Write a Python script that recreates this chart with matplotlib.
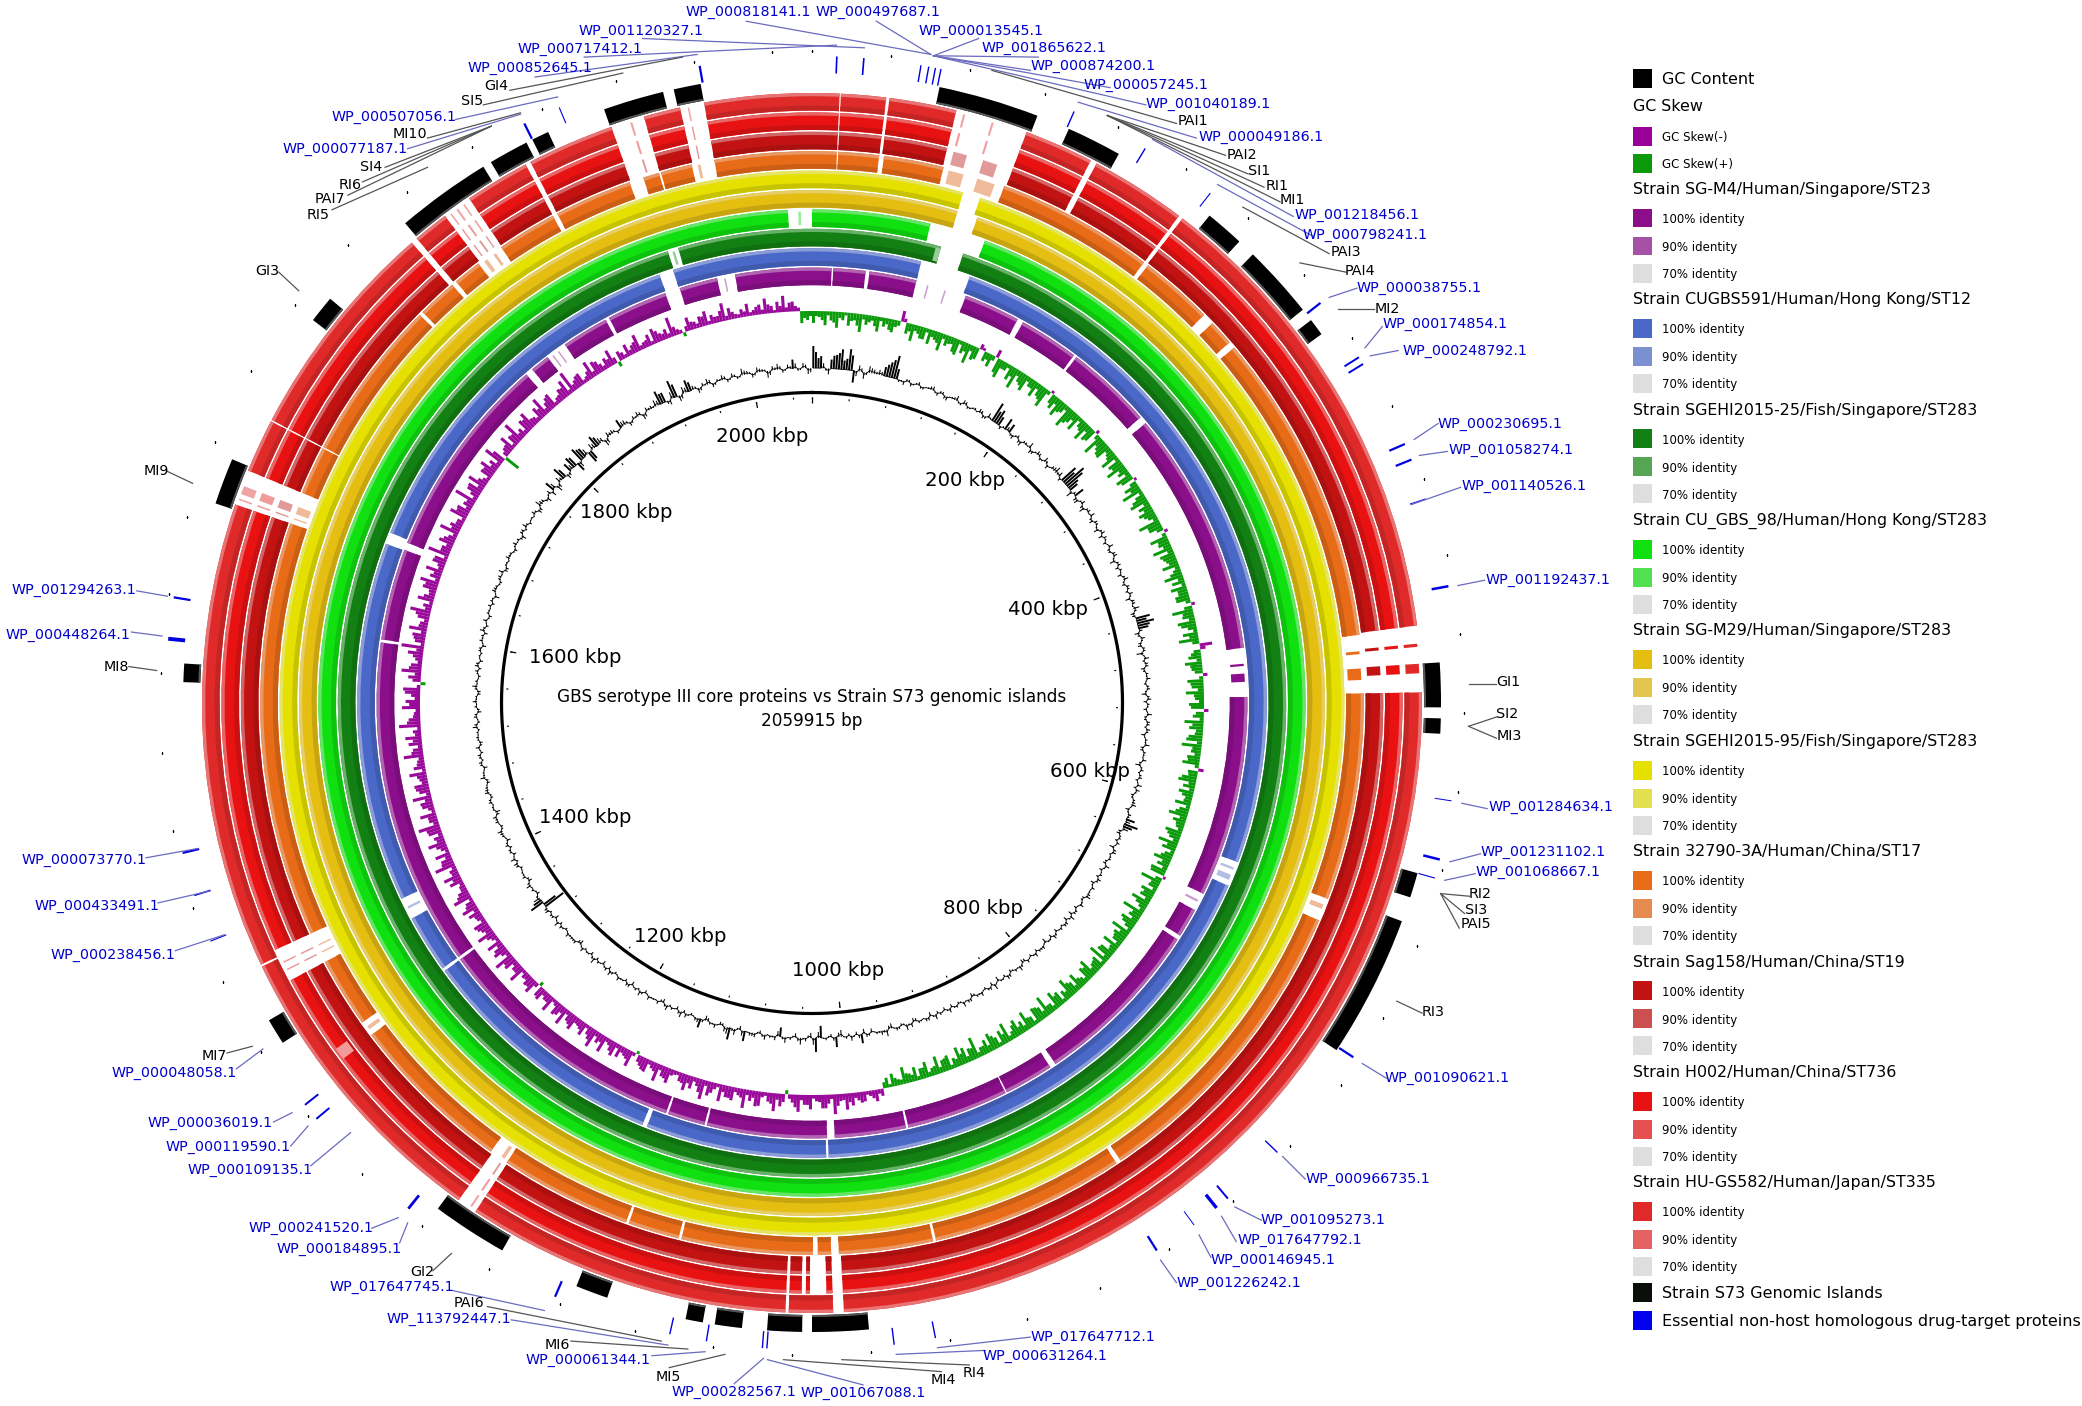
import numpy as np
import matplotlib
matplotlib.use("Agg")
import matplotlib.pyplot as plt
from matplotlib.patches import Rectangle
from matplotlib.colors import to_rgb

GENOME_BP = 2059915
TITLE = ["GBS serotype III core proteins vs Strain S73 genomic islands", "2059915 bp"]

STRAINS = ["Strain HU-GS582/Human/Japan/ST335", "Strain H002/Human/China/ST736", "Strain Sag158/Human/China/ST19",
           "Strain 32790-3A/Human/China/ST17", "Strain SGEHI2015-95/Fish/Singapore/ST283",
           "Strain SG-M29/Human/Singapore/ST283", "Strain CU_GBS_98/Human/Hong Kong/ST283",
           "Strain SGEHI2015-25/Fish/Singapore/ST283", "Strain CUGBS591/Human/Hong Kong/ST12",
           "Strain SG-M4/Human/Singapore/ST23"]
COL_100 = ["#E02A2A", "#E81212", "#C21212", "#E86C18", "#E5E000", "#E5BE12", "#10E010", "#128012", "#4A68C8", "#8B0F8B"]
COL_90 = ["#E56262", "#E55050", "#CC5050", "#E58A50", "#E2E050", "#E3C650", "#50E050", "#55A555", "#7B90D0", "#A650A6"]

RED_GAPS = [(2.6, 2.72), (7.0, 7.3), (13.7, 20.6), (27.2, 27.8), (37.0, 37.4), (82.7, 89.0), (177.0, 178.0),
            (178.6, 180.2), (180.6, 181.0), (182.2, 182.5), (213.5, 215.4), (242.0, 245.3), (289.0, 292.4), (297.5, 297.65),
            (319.0, 319.6), (323.0, 325.8), (332.0, 332.5), (340.8, 344.0), (347.5, 349.8)]
GAPS = [
    [g for g in RED_GAPS if g not in [(178.6, 180.2), (180.6, 181.0), (242.0, 245.3)]] + [(244.4, 244.6)],
    RED_GAPS,
    RED_GAPS,
    [(2.6, 2.72), (7.0, 7.5), (13.8, 20.4), (37.0, 37.5), (45.3, 46.5), (49.2, 49.9), (82.9, 89.0), (110.8, 113.2),
     (146.0, 146.5), (167.0, 167.3), (177.2, 178.0), (179.4, 179.9), (193.7, 194.0), (199.4, 199.7), (213.6, 215.6),
     (233.0, 234.6), (242.0, 245.3), (289.0, 292.4), (297.5, 297.65), (314.7, 315.1), (319.3, 319.8), (322.8, 325.7),
     (332.0, 332.5), (340.7, 342.2), (343.9, 344.1), (347.4, 349.8)],
    [(16.5, 18.4)],
    [(16.5, 18.8)],
    [(13.9, 20.5), (357.2, 360.0)],
    [(15.8, 18.6), (342.3, 343.6)],
    [(13.9, 20.3), (110.5, 113.7), (177.9, 178.2), (201.3, 201.9), (233.9, 234.3), (241.7, 244.5), (290.5, 292.0), (340.4, 342.2)],
    [(2.6, 2.8), (7.1, 7.6), (13.9, 20.7), (28.2, 29.0), (37.0, 37.4), (49.0, 50.0), (82.7, 89.2), (116.0, 118.4),
     (122.3, 122.9), (146.0, 146.8), (153.4, 153.6), (167.2, 167.5), (177.0, 178.0), (194.0, 194.3), (199.3, 199.6),
     (233.9, 234.3), (278.0, 278.4), (290.6, 291.6), (319.0, 320.0), (322.6, 325.4), (331.7, 332.2), (340.3, 342.3),
     (347.4, 349.8)],
]
RED_SLIVERS = [(14.4, 14.6), (17.2, 17.4), (84.4, 84.7), (86.3, 87.2), (214.0, 214.2), (243.0, 243.15), (243.8, 243.95),
               (289.5, 289.65), (290.1, 290.9), (323.5, 323.65), (324.2, 324.4), (325.0, 325.15), (342.6, 342.8), (348.2, 348.35)]
SLIVERS = [
    [s for s in RED_SLIVERS if s not in [(243.0, 243.15), (243.8, 243.95)]],
    RED_SLIVERS + [(232.8, 234.0)],
    [s for s in RED_SLIVERS if s not in [(14.4, 14.6), (17.2, 17.4)]] + [(14.4, 15.8), (17.5, 19.0)],
    [(14.4, 16.0), (17.5, 19.4), (84.6, 84.9), (86.4, 87.6), (111.5, 112.0), (214.0, 214.4), (233.6, 234.0), (243.0, 243.15),
     (243.8, 243.95), (289.5, 289.65), (290.1, 290.9), (323.4, 323.8), (324.6, 324.9), (348.0, 348.3)],
    [], [], [(358.4, 358.7)], [(15.2, 15.8), (342.8, 343.1)], [(111.3, 111.6), (112.3, 113.0), (243.0, 243.3)],
    [(15.4, 15.6), (17.8, 18.0), (84.8, 85.1), (86.1, 87.2), (117.0, 117.3), (323.2, 323.4), (324.1, 324.3), (348.3, 348.5)],
]

ISLANDS_DEG = [(11.7, 21.0), (24.1, 29.2), (39.2, 42.8), (44.5, 51.3), (52.5, 54.1), (86.3, 90.4), (91.4, 92.8),
               (105.7, 108.0), (110.3, 123.5), (174.8, 180.0), (180.9, 184.1), (186.4, 188.9), (190.0, 191.6),
               (199.0, 202.0), (209.5, 216.5), (237.3, 239.7), (271.9, 273.6), (288.5, 292.8), (307.5, 310.0),
               (319.7, 328.5), (329.3, 333.0), (333.6, 335.2), (340.7, 346.3), (347.3, 349.8)]
TARGETS_DEG = [2.2, 4.6, 9.7, 10.4, 11.0, 11.5, 23.9, 31.0, 38.0, 51.8, 57.7, 58.4, 66.4, 67.9, 71.6, 79.6, 98.7,
               104.0, 105.7, 123.2, 134.0, 140.0, 141.3, 143.8, 147.8, 169.0, 172.7, 184.0, 184.4, 189.4, 192.7,
               203.4, 218.6, 230.0, 231.6, 248.4, 252.7, 256.6, 275.7, 279.4, 333.6, 337.0, 350.0]
TARGET_WIDTHS = [1.2, 1.2, 1.0, 1.0, 1.0, 1.0, 1.0, 1.0, 0.8, 1.6, 1.4, 1.4, 1.6, 1.6, 0.7, 1.8, 0.7,
                 1.8, 0.8, 1.6, 1.0, 1.4, 2.4, 0.7, 1.6, 1.0, 1.0, 1.0, 1.0, 1.0, 1.0,
                 1.6, 2.0, 1.4, 1.4, 0.8, 1.2, 1.6, 2.8, 1.6, 1.6, 0.8, 1.6]

GC_CONTENT_A = [
    22,10,6,-7,13,16,9,21,-12,7,-8,8,5,6,9,15,23,-3,-5,3,
    -2,4,-3,2,5,-4,3,-5,2,6,-3,4,-2,3,5,-4,6,20,15,-4,
    12,9,-5,4,-6,3,7,-4,5,-3,6,-5,4,8,6,18,24,12,-8,10,
    -6,5,-7,4,6,-5,3,-6,5,4,-4,6,-3,5,-7,4,3,-5,6,-4,
    3,5,-6,4,7,-5,14,17,10,-6,5,-4,3,-8,6,4,-5,3,5,-3,
    4,-6,5,3,-4,6,-3,4,5,-5,3,6,-4,2,5,-7,4,3,-3,6,
    5,-4,3,6,-5,4,9,14,7,-5,3,4,-6,5,2,-3,6,-4,3,5,
    -5,4,2,6,-3,5,-4,3,6,-5,4,3,-4,5,2,-6,4,3,5,-3,
    4,-5,6,3,-4,5,2,-6,7,4,-3,5,3,-5,4,6,-3,2,5,-4,
    3,6,-5,4,2,-4,5,7,-3,4,-6,8,5,3,-5,4,9,-4,6,3,
    -8,10,-4,3,-12,14,-6,4,8,-5,3,7,-9,5,3,6,-4,5,4,10,
    -5,7,12,6,-4,5,3,-6,9,4,-3,5,7,-4,3,6,-5,4,2,5,
    -4,6,3,-5,4,2,5,-3,6,4,-5,3,7,-4,2,5,-6,4,3,5,
    -3,4,6,-5,3,5,-22,14,8,-4,3,6,-5,4,2,-3,5,6,-4,3,
    4,-5,3,6,-3,4,5,-6,2,4,-3,5,3,-4,6,2,-5,4,3,-3,
    5,-4,3,2,6,-3,4,-5,3,5,2,-4,6,3,-3,4,5,-4,2,3,
    -5,4,3,6,-3,5,-4,2,4,3,-6,5,3,-3,4,6,-4,2,5,3,
    -4,5,3,-6,4,6,-3,2,5,-5,8,4,-6,5,10,-8,7,13,-6,9,
    12,-9,14,10,-11,8,12,7,-8,6,5,-4,9,6,-5,4,6,-7,5,4,
    8,14,10,-6,18,-7,8,12,5,-6,4,7,-5,3,6,-4,5,-3,8,4,
    -5,6,3,-8,5,7,-4,5,9,-3,6,-7]
GC_CONTENT_B = [
    16,12,-3,9,14,20,11,15,-6,4,-3,6,3,4,12,18,10,-2,3,-4,
    2,-3,1,4,-2,3,-4,1,3,-2,5,-3,2,-1,4,-3,2,12,9,2,
    5,-3,2,-4,3,1,-5,2,4,-2,3,-1,5,3,-4,14,20,9,3,-5,
    2,-4,3,1,-3,4,-2,3,-5,2,1,-3,4,-2,3,-4,1,3,-2,4,
    -3,2,4,-1,3,-4,10,12,4,-3,2,-5,3,1,-2,4,-3,2,-1,3,
    -2,3,-4,2,1,-3,4,-2,3,-1,2,-4,3,1,-3,2,-2,4,1,-3,
    2,-3,4,1,-2,3,6,9,-4,2,-3,1,4,-2,3,-4,2,1,-3,3,
    -2,1,4,-3,2,-1,3,-5,2,4,-2,1,3,-4,2,-1,3,-3,2,1,
    -4,3,1,-2,4,-3,2,1,-4,3,-1,2,-3,4,1,-2,3,-4,2,1,
    -3,2,4,-1,3,-5,2,-2,3,1,-4,3,2,-1,3,-6,4,2,-3,1,
    -5,4,-2,1,-7,8,-3,2,4,-2,1,3,-6,2,-1,3,-2,4,1,6,
    -2,3,8,-3,1,2,-4,3,5,-1,2,-3,4,1,-2,3,-3,1,2,-1,
    3,-2,1,4,-3,2,-1,3,-4,2,1,-3,3,2,-2,1,-4,3,2,-1,
    2,-3,1,3,-2,4,-14,9,3,-2,1,3,-3,2,-1,4,-2,1,3,-3,
    2,-1,4,-2,1,3,-4,2,-1,3,-2,4,1,-3,2,-1,3,-2,4,1,
    -3,2,1,-2,4,-1,3,-3,1,2,-4,3,1,-1,2,-3,4,1,-2,3,
    -1,2,-4,3,1,-2,3,1,-3,2,-1,4,-2,3,1,-4,2,-1,3,-2,
    2,1,-3,4,-2,3,1,-1,3,-4,5,-3,2,-6,7,-5,4,9,-4,6,
    10,-7,11,8,-9,6,9,5,-6,4,3,-2,6,3,-3,2,4,-5,3,2,
    6,10,-4,8,13,-5,6,9,3,-4,2,5,-3,2,4,-2,3,-2,5,2,
    -3,4,2,-5,3,4,-2,3,6,-2,4,-5]
GC_SKEW_A = [
    12,6,14,9,16,8,13,7,18,10,5,15,9,11,7,-12,11,17,8,12,
    15,9,18,11,7,16,12,20,14,-6,10,13,-9,19,8,15,21,11,17,9,
    16,12,20,-3,14,18,10,22,13,17,9,19,15,-4,21,12,16,8,18,14,
    20,11,17,-3,15,21,10,19,13,16,9,22,14,-4,18,12,20,15,11,17,
    8,19,13,16,10,14,-4,21,12,18,9,15,20,-14,7,13,17,11,-5,16,
    12,18,9,15,-5,11,19,14,8,16,20,10,13,17,-6,9,18,12,15,7,
    16,10,19,13,8,17,11,20,14,9,18,12,16,-3,21,10,15,13,19,8,
    22,12,17,9,20,14,11,18,7,16,21,13,10,19,15,8,17,12,20,11,
    14,18,9,21,13,16,10,19,12,17,8,20,15,11,18,14,9,22,13,16,
    19,10,15,12,18,8,16,11,14,9,17,6,13,10,-8,-13,-6,-11,-9,-14,
    -18,-8,-22,-10,-15,-7,-16,-11,-19,-9,4,-14,-20,-10,-6,-17,-12,-21,-8,-15,
    -13,-19,-7,-16,-22,-9,-14,-18,-10,-5,-17,-12,-20,-8,-15,-11,3,-18,-9,-14,
    -16,-7,-19,-12,-21,-10,-15,-8,-17,-11,-20,-13,-6,-18,-9,-14,4,-16,-12,-8,
    -19,-10,-15,-22,-9,-13,-17,-7,-20,-11,-16,-8,-14,-18,-10,-21,-12,-7,-15,-19,
    -9,-23,-13,-17,-8,-20,-11,-15,-24,-10,-18,-7,-14,-21,-12,-16,-9,-19,-13,-8,
    -22,-11,-15,-18,-9,-24,-13,-7,-20,-16,-10,-19,5,-14,-22,-12,-8,-17,-25,-11,
    -15,-20,-9,-13,-23,-10,-18,-7,-16,-21,-12,-19,-8,-14,-24,-11,-17,-9,-22,-13,
    -8,-20,-15,-11,-25,-10,-17,-21,-7,-14,-19,-12,-23,16,-9,-18,-13,-24,-10,-16,
    -20,-8,-15,-22,-11,-17,-7,-13,-19,-25,-10,-14,-6,-20,-16,-9,-12,-18,5,-8,
    -14,-10,-19,-7,-13,-17,-9,-11,-22,-6,4,-15,-8,-12,-16,-10,-7,-20,-13,-5,
    -9,-14,-6,-11,-17,-8,-12,-18,-10,-6,12,9]
GC_SKEW_B = [
    5,9,4,11,6,3,8,12,5,7,10,4,6,13,5,-4,8,6,12,4,
    7,11,5,8,14,4,9,6,12,-3,7,5,15,8,4,10,6,13,5,9,
    6,14,4,10,7,12,5,16,8,4,11,7,13,5,9,15,6,10,4,12,
    8,5,13,7,10,4,15,6,9,12,5,14,7,4,11,8,6,13,9,5,
    12,6,4,10,14,5,8,11,6,15,4,9,7,-6,10,5,12,8,4,13,
    6,10,5,13,8,4,11,7,14,5,9,6,12,4,10,15,7,5,11,8,
    4,13,7,9,5,14,6,10,4,12,8,5,15,7,9,4,11,6,13,5,
    10,7,14,4,9,12,5,8,15,6,4,11,7,13,5,10,6,14,8,4,
    12,5,9,7,15,4,11,6,8,13,5,10,4,14,7,9,5,12,6,11,
    8,4,13,6,9,5,11,4,7,10,5,8,3,6,-5,-9,-4,-12,-6,-10,
    -7,-13,-5,-15,-8,-4,-11,-6,-14,-5,-9,-7,-12,-4,-16,-8,-6,-10,-5,-13,
    -8,-4,-12,-6,-15,-5,-9,-11,-4,-7,-13,-6,-10,-5,-14,-8,-4,-11,-7,-5,
    -12,-5,-9,-6,-14,-4,-10,-7,-13,-5,-8,-15,-4,-9,-6,-12,-5,-11,-7,-4,
    -10,-6,-13,-5,-16,-7,-4,-11,-8,-14,-5,-9,-6,-12,-4,-15,-7,-5,-10,-8,
    -5,-14,-7,-4,-12,-9,-5,-16,-6,-10,-4,-13,-8,-5,-15,-7,-11,-4,-9,-6,
    -13,-5,-10,-7,-4,-15,-8,-5,-12,-6,-17,-4,-9,-7,-14,-5,-11,-8,-4,-13,
    -6,-10,-5,-16,-7,-4,-12,-8,-14,-5,-9,-6,-15,-4,-11,-7,-13,-5,-10,-8,
    -4,-14,-6,-9,-5,-16,-7,-11,-4,-13,-8,-5,-15,-6,-10,-4,-12,-7,-5,-14,
    -9,-5,-11,-6,-15,-4,-8,-12,-5,-7,-13,-4,-10,-6,-14,-5,-9,-7,-11,-4,
    -6,-12,-5,-8,-4,-13,-7,-5,-10,-4,-6,-9,-5,-11,-4,-7,-12,-5,-8,-4,
    -6,-4,-9,-5,-10,-3,-7,-5,-11,-4,7,5]

KBP_LABELS = ["200 kbp", "400 kbp", "600 kbp", "800 kbp", "1000 kbp", "1200 kbp", "1400 kbp", "1600 kbp", "1800 kbp", "2000 kbp"]
KBP_XY = [(727, 361), (789, 458), (821, 580), (740, 683), (631, 730), (512, 704), (441, 615), (433, 494), (472, 385), (574, 328)]

# name, text x, text y, leader start, leader end  (overlay coordinates)
BLUE_LABELS = [
    ("WP_000818141.1", 516, 8, (562, 16), (701, 41)), ("WP_000497687.1", 614, 8, (660, 16), (701, 41)),
    ("WP_000013545.1", 692, 22, (737, 29), (703, 42)), ("WP_001120327.1", 436, 22, (484, 29), (651, 36)),
    ("WP_000717412.1", 390, 36, (440, 43), (630, 34)), ("WP_000852645.1", 352, 50, (403, 58), (525, 41)),
    ("WP_000507056.1", 250, 87, (343, 90), (420, 73)), ("WP_000077187.1", 213, 111, (307, 112), (392, 86)),
    ("WP_001865622.1", 739, 35, (782, 43), (703, 42)), ("WP_000874200.1", 776, 49, (776, 53), (703, 42)),
    ("WP_000057245.1", 816, 63, (836, 66), (703, 42)), ("WP_001040189.1", 863, 77, (863, 79), (703, 42)),
    ("WP_000049186.1", 903, 102, (901, 104), (812, 77)), ("WP_001218456.1", 975, 161, (974, 163), (868, 105)),
    ("WP_000798241.1", 981, 176, (989, 178), (917, 139)), ("WP_000038755.1", 1022, 216, (1022, 217), (1001, 224)),
    ("WP_000174854.1", 1041, 243, (1041, 246), (1028, 262)), ("WP_000248792.1", 1056, 263, (1053, 264), (1032, 268)),
    ("WP_000230695.1", 1083, 318, (1083, 319), (1065, 331)), ("WP_001058274.1", 1091, 338, (1090, 340), (1069, 343)),
    ("WP_001140526.1", 1101, 365, (1100, 367), (1063, 380)), ("WP_001192437.1", 1119, 436, (1118, 437), (1098, 441)),
    ("WP_001284634.1", 1121, 607, (1120, 609), (1101, 605)), ("WP_001231102.1", 1115, 641, (1115, 643), (1092, 649)),
    ("WP_001068667.1", 1111, 656, (1111, 658), (1088, 663)), ("WP_001090621.1", 1043, 811, (1044, 812), (1026, 801)),
    ("WP_000966735.1", 983, 887, (983, 888), (966, 871)), ("WP_001095273.1", 949, 918, (950, 919), (930, 909)),
    ("WP_017647792.1", 932, 933, (931, 935), (920, 916)), ("WP_000146945.1", 912, 948, (912, 947), (903, 930)),
    ("WP_001226242.1", 886, 965, (886, 966), (874, 949)), ("WP_017647712.1", 776, 1006, (776, 1007), (706, 1015)),
    ("WP_000631264.1", 740, 1020, (742, 1017), (675, 1020)), ("WP_001067088.1", 603, 1048, (650, 1043), (578, 1024)),
    ("WP_000282567.1", 506, 1047, (553, 1042), (575, 1023)), ("WP_000061344.1", 396, 1023, (491, 1021), (531, 1018)),
    ("WP_113792447.1", 291, 992, (385, 994), (503, 1013)), ("WP_017647745.1", 248, 968, (341, 972), (410, 987)),
    ("WP_000184895.1", 208, 940, (301, 936), (307, 921)), ("WP_000241520.1", 187, 924, (280, 925), (300, 917)),
    ("WP_000109135.1", 141, 880, (234, 878), (264, 853)), ("WP_000119590.1", 125, 863, (219, 863), (232, 848)),
    ("WP_000036019.1", 111, 845, (206, 845), (220, 838)), ("WP_000048058.1", 84, 807, (178, 805), (198, 790)),
    ("WP_000238456.1", 38, 718, (132, 716), (169, 704)), ("WP_000433491.1", 26, 681, (119, 680), (158, 671)),
    ("WP_000073770.1", 16, 647, (110, 646), (149, 639)), ("WP_000448264.1", 4, 477, (99, 476), (122, 479)),
    ("WP_001294263.1", 9, 443, (103, 445), (126, 449)),
]
BLACK_LABELS = [
    ("GI4", 365, 64, (384, 68), (514, 43)), ("SI5", 347, 75, (364, 79), (469, 55)), ("MI10", 296, 100, (322, 104), (392, 85)),
    ("SI4", 271, 125, (290, 126), (370, 95)), ("RI6", 255, 138, (273, 137), (370, 95)), ("PAI7", 237, 149, (262, 147), (370, 95)),
    ("RI5", 231, 161, (250, 158), (322, 126)), ("GI3", 192, 203, (210, 205), (225, 219)), ("MI9", 108, 354, (126, 355), (145, 364)),
    ("MI8", 78, 501, (97, 502), (118, 505)), ("MI7", 152, 794, (171, 793), (190, 788)), ("GI2", 309, 957, (326, 957), (340, 944)),
    ("PAI6", 342, 980, (367, 984), (498, 1010)), ("MI6", 410, 1012, (430, 1010), (518, 1016)), ("MI5", 494, 1036, (504, 1030), (546, 1020)),
    ("MI4", 701, 1038, (709, 1033), (590, 1024)), ("RI4", 725, 1033, (730, 1028), (634, 1024)), ("RI3", 1071, 761, (1071, 763), (1052, 754)),
    ("RI2", 1106, 672, (1107, 675), (1085, 673)), ("SI3", 1103, 684, (1103, 688), (1085, 673)), ("PAI5", 1100, 695, (1099, 699), (1085, 673)),
    ("SI2", 1127, 537, (1127, 540), (1106, 547)), ("MI3", 1127, 553, (1127, 556), (1106, 547)), ("GI1", 1127, 513, (1127, 515), (1106, 515)),
    ("MI2", 1035, 232, (1035, 233), (1008, 233)), ("PAI4", 1013, 203, (1014, 205), (979, 198)), ("PAI3", 1002, 189, (1001, 191), (936, 156)),
    ("MI1", 964, 150, (964, 152), (834, 87)), ("RI1", 953, 139, (952, 141), (834, 87)), ("SI1", 940, 128, (940, 131), (834, 87)),
    ("PAI2", 924, 116, (923, 117), (834, 87)), ("PAI1", 887, 90, (886, 93), (747, 53)),
]

W, H = 2082, 1406
CX, CY, RMAX = 812, 703, 700
S = 2082 / 1568


def th(deg):
    return np.deg2rad(deg)


def mix(c, other, t):
    a, b = np.array(to_rgb(c)), np.array(to_rgb(other))
    return tuple(a * (1 - t) + b * t)


def arc(ax, start, end, r0, r1, color, z=2):
    ax.bar(th((start + end) / 2), r1 - r0, width=th(end - start), bottom=r0, color=color, linewidth=0, zorder=z)


def interleave(a, b):
    out = np.empty(len(a) + len(b), float)
    out[0::2] = a
    out[1::2] = b
    return out


fig = plt.figure(figsize=(W / 100, H / 100), dpi=100, facecolor="white")
ax = fig.add_axes([(CX - RMAX) / W, (H - CY - RMAX) / H, 2 * RMAX / W, 2 * RMAX / H], projection="polar")
ax.set_theta_zero_location("N")
ax.set_theta_direction(-1)
ax.set_ylim(0, RMAX)
ax.set_axis_off()

for i in range(len(STRAINS)):
    r1 = 610 - 19.4 * i
    r0 = r1 - 17.6
    prev = 0.0
    segs = []
    for a, b in sorted(GAPS[i]):
        if a > prev:
            segs.append((prev, a))
        prev = b
    if prev < 360:
        segs.append((prev, 360))
    for a, b in segs:
        arc(ax, a, b, r0, r1, COL_100[i])
        arc(ax, a, b, r1 - 3.2, r1, mix(COL_90[i], "white", 0.12), 3)
        arc(ax, a, b, r0, r0 + 5, mix(COL_100[i], "black", 0.13), 3)
    for a, b in SLIVERS[i]:
        strong = 84 <= a <= 88
        arc(ax, a, b, r0 + 2, r1 - 2, COL_100[i] if strong else mix(COL_90[i], "white", 0.42), 3)

for a, b in ISLANDS_DEG:
    arc(ax, a, b, 612, 629, "black")
    arc(ax, a, b, 612, 614, "#555555", 3)

ax.vlines(th(np.array(TARGETS_DEG)), 630, 647, colors="#0000E0", linewidth=np.array(TARGET_WIDTHS), zorder=4)

tick_kbp = np.arange(0, GENOME_BP, 40000)
tick_th = tick_kbp / GENOME_BP * 2 * np.pi
ax.plot(tick_th, np.full(len(tick_th), 652), ls="", marker="s", ms=1.1, color="black", mew=0)
ax.vlines(tick_th, 304, 306, colors="black", linewidth=0.8)
major = np.arange(0, GENOME_BP, 200000) / GENOME_BP * 2 * np.pi
ax.vlines(major, 300, 306, colors="black", linewidth=0.9)
circle_th = np.linspace(0, 2 * np.pi, 721)
ax.plot(circle_th, np.full(721, 310.5), color="black", lw=2.3, zorder=4)

skew = interleave(GC_SKEW_A, GC_SKEW_B)
n = len(skew)
sth = (np.arange(n) + 0.5) * 2 * np.pi / n
pos = skew > 0
ax.bar(sth[pos], skew[pos], width=2 * np.pi / n * 1.0, bottom=392 - skew[pos], color="#0A9A0A", linewidth=0)
ax.bar(sth[~pos], -0.9 * skew[~pos], width=2 * np.pi / n * 1.0, bottom=392, color="#9A0A9A", linewidth=0)

gc = interleave(GC_CONTENT_A, GC_CONTENT_B)
m = len(gc)
gth = (np.arange(m) + 0.5) * 2 * np.pi / m
big = np.abs(gc) >= 9
shown = np.where(big, gc, gc * 0.85)
ax.vlines(gth[~big], 335, 335 + shown[~big], colors="black", linewidth=0.75)
ax.vlines(gth[big], 335, 335 + shown[big], colors="black", linewidth=1.4)
ax.plot(gth, 335 + gc * 0.3 * (~big), color="black", lw=0.6)

ov = fig.add_axes([0, 0, 1, 1], facecolor="none", zorder=5)
ov.set_xlim(0, 1568)
ov.set_ylim(H / S, 0)
ov.set_axis_off()

for rows, tc, lc in ((BLUE_LABELS, "#0000CC", "#6A6ABF"), (BLACK_LABELS, "black", "#555555")):
    for name, x, y, p0, p1 in rows:
        ov.plot([p0[0], p1[0]], [p0[1], p1[1]], color=lc, lw=0.9)
        ov.text(x, y + 1, name, color=tc, fontsize=10.3, va="center", ha="left")

for label, (x, y) in zip(KBP_LABELS, KBP_XY):
    ov.text(x, y + 1, label, fontsize=14.2, ha="center", va="center", color="black")
ov.text(611.5, 525, TITLE[0], fontsize=12.2, ha="center", va="center")
ov.text(611.5, 543, TITLE[1], fontsize=12.2, ha="center", va="center")


def swatch(y, color, text, big=False):
    ov.add_patch(Rectangle((1633 / S, (y - 9.5) / S), 19 / S, 19 / S, facecolor=color, edgecolor="none"))
    ov.text(1662 / S, (y + 1.3) / S, text, fontsize=11.5 if big else 8.45, va="center", ha="left")


def header(y, text):
    ov.text(1633 / S, (y + 1.3) / S, text, fontsize=11.4, va="center", ha="left")


swatch(78, "black", "GC Content", big=True)
header(105, "GC Skew")
swatch(136, "#990099", "GC Skew(-)")
swatch(163, "#0A9A0A", "GC Skew(+)")
for k, idx in enumerate(range(len(STRAINS) - 1, -1, -1)):
    y0 = 188 + 110.4 * k
    header(y0, STRAINS[idx])
    swatch(y0 + 30, COL_100[idx], "100% identity")
    swatch(y0 + 58, COL_90[idx], "90% identity")
    swatch(y0 + 85, "#DEDEDE", "70% identity")
swatch(1292, "#0A0F0A", "Strain S73 Genomic Islands", big=True)
swatch(1320, "#0000EE", "Essential non-host homologous drug-target proteins", big=True)

fig.savefig("out.png", dpi=100, facecolor="white")
